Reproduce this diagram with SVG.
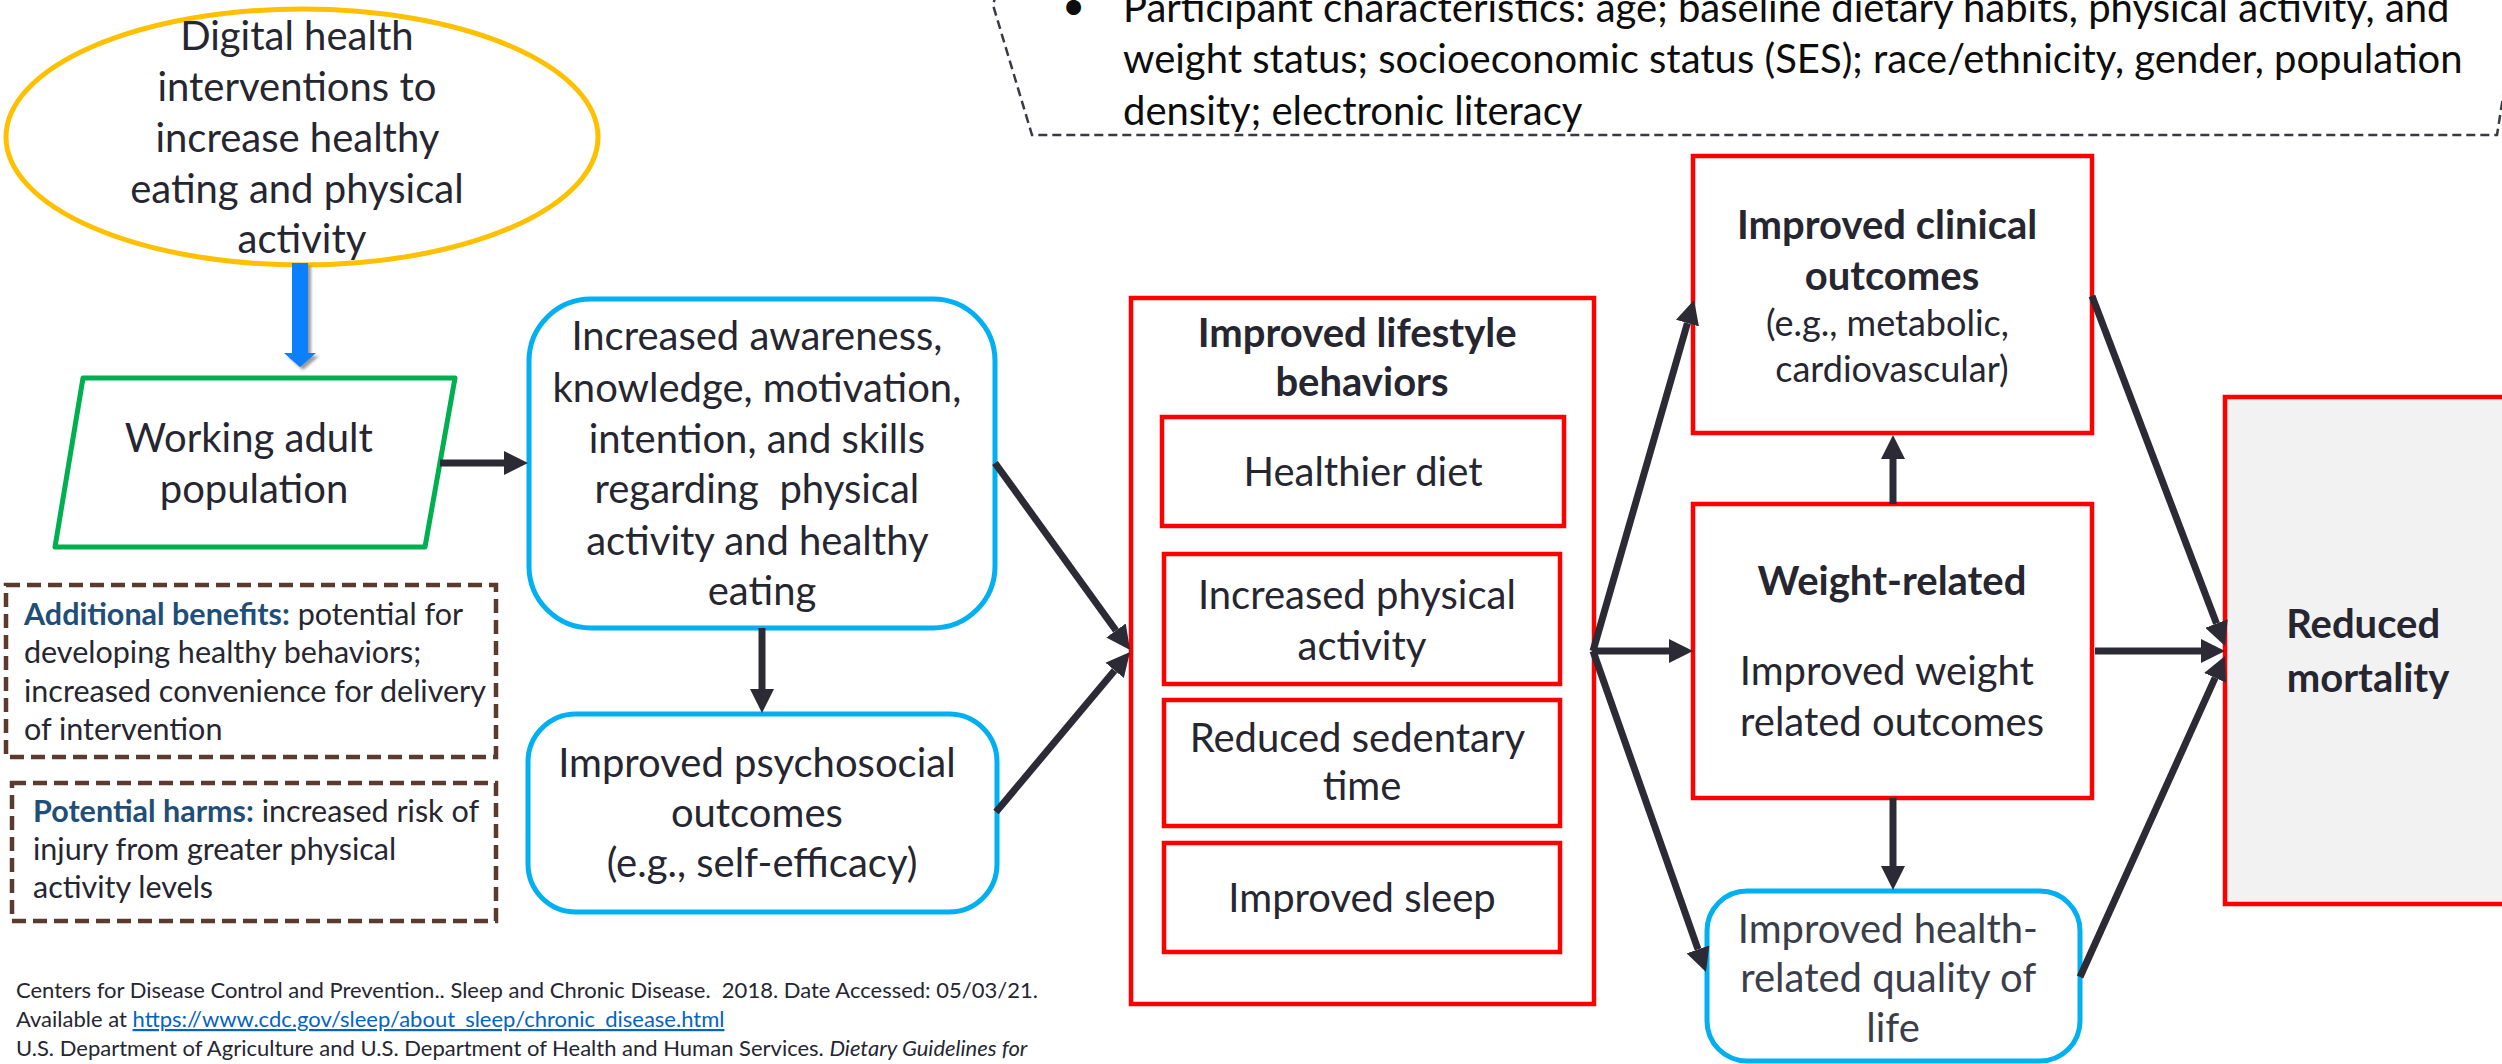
<svg xmlns="http://www.w3.org/2000/svg" width="2502" height="1064" viewBox="0 0 2502 1064">
  <defs>
    <style>
      text { font-family: Lato, "Open Sans", "DejaVu Sans", sans-serif; fill: #262631; }
      .c { text-anchor: middle; }
      .n { font-size: 40px; }
      .s { font-size: 36px; }
      .b { font-weight: 700; }
      .red { fill: #ffffff; stroke: #FF0000; stroke-width: 4.5; }
      .blue { fill: #ffffff; stroke: #00B0F0; stroke-width: 5; }
      .note { fill: #ffffff; stroke: #5B3A30; stroke-width: 4.5; stroke-dasharray: 14 7; }
      .note-text { font-size: 30.5px; }
      .lbl { fill: #1F4E79; font-weight: 700; }
      .foot { font-size: 22px; }
      #connectors line { stroke: #2B2A35; stroke-width: 7; marker-end: url(#ah); }
    </style>
    <marker id="ah" markerUnits="userSpaceOnUse" viewBox="0 0 24 24" markerWidth="24" markerHeight="24" refX="0" refY="12" orient="auto">
      <path d="M0,0 L24,12 L0,24 Z" fill="#2B2A35"/>
    </marker>
    <filter id="shadow" x="-50%" y="-20%" width="200%" height="140%">
      <feGaussianBlur stdDeviation="1.5"/>
    </filter>
  </defs>

  <rect width="2502" height="1064" fill="#ffffff"/>

  <!-- participant characteristics callout (top edge runs off the canvas) -->
  <g id="participants">
    <path d="M1000,-20 L993,5 L1032,135 L2497,135 L2512,40" fill="none" stroke="#3A3A46" stroke-width="2.5" stroke-dasharray="9 5"/>
    <text x="1062" y="20" class="n" style="fill:#0D0D0D">•</text>
    <text class="n" style="fill:#0D0D0D">
      <tspan x="1123" y="22">Participant characteristics: age; baseline dietary habits, physical activity, and</tspan>
      <tspan x="1123" y="73">weight status; socioeconomic status (SES); race/ethnicity, gender, population</tspan>
      <tspan x="1123" y="125">density; electronic literacy</tspan>
    </text>
  </g>

  <!-- intervention -->
  <g id="intervention">
    <ellipse cx="302" cy="137" rx="296" ry="128" fill="#ffffff" stroke="#FFC000" stroke-width="5"/>
    <text class="n c">
      <tspan x="302" y="50">Digital health</tspan>
      <tspan x="302" y="101">interventions to</tspan>
      <tspan x="302" y="152">increase healthy</tspan>
      <tspan x="302" y="203">eating and physical</tspan>
      <tspan x="302" y="253">activity</tspan>
    </text>
  </g>

  <!-- block arrow from intervention to population -->
  <g id="intervention-arrow">
    <polygon points="295,266 311,266 311,356 319,356 303,370 287,356 295,356" fill="#6E6E6E" opacity="0.7" filter="url(#shadow)"/>
    <polygon points="292,263 308,263 308,353 316,353 300,367 284,353 292,353" fill="#0A80FF"/>
  </g>

  <!-- population -->
  <g id="population">
    <polygon points="83,378 455,378 425,547 55,547" fill="#ffffff" stroke="#00B050" stroke-width="5" stroke-linejoin="round"/>
    <text class="n c">
      <tspan x="254" y="452">Working adult</tspan>
      <tspan x="254" y="503">population</tspan>
    </text>
  </g>

  <!-- notes -->
  <g id="benefits">
    <rect x="6" y="585" width="490" height="172" class="note"/>
    <text class="note-text">
      <tspan x="24" y="625"><tspan class="lbl">Additional benefits:</tspan> potential for</tspan>
      <tspan x="24" y="663">developing healthy behaviors;</tspan>
      <tspan x="24" y="702">increased convenience for delivery</tspan>
      <tspan x="24" y="740">of intervention</tspan>
    </text>
  </g>
  <g id="harms">
    <rect x="12" y="783" width="484" height="138" class="note"/>
    <text class="note-text">
      <tspan x="33" y="822"><tspan class="lbl">Potential harms:</tspan> increased risk of</tspan>
      <tspan x="33" y="860">injury from greater physical</tspan>
      <tspan x="33" y="898">activity levels</tspan>
    </text>
  </g>

  <!-- mediators -->
  <g id="awareness">
    <rect x="529" y="299" width="466" height="329" rx="62" class="blue"/>
    <text class="n c">
      <tspan x="762" y="350">Increased awareness,</tspan>
      <tspan x="762" y="402">knowledge, motivation,</tspan>
      <tspan x="762" y="453">intention, and skills</tspan>
      <tspan x="762" y="503">regarding&#160; physical</tspan>
      <tspan x="762" y="555">activity and healthy</tspan>
      <tspan x="762" y="605">eating</tspan>
    </text>
  </g>
  <g id="psychosocial">
    <rect x="528" y="714" width="469" height="198" rx="48" class="blue"/>
    <text class="n c">
      <tspan x="762" y="777">Improved psychosocial</tspan>
      <tspan x="762" y="827">outcomes</tspan>
      <tspan x="762" y="877">(e.g., self-efficacy)</tspan>
    </text>
  </g>

  <!-- lifestyle behaviours -->
  <g id="lifestyle">
    <rect x="1131" y="298" width="463" height="706" class="red"/>
    <text class="n c b">
      <tspan x="1362" y="347">Improved lifestyle</tspan>
      <tspan x="1362" y="396">behaviors</tspan>
    </text>
  </g>
  <g id="diet">
    <rect x="1162" y="417" width="402" height="109" class="red"/>
    <text x="1363" y="486" class="n c">Healthier diet</text>
  </g>
  <g id="activity">
    <rect x="1164" y="554" width="396" height="130" class="red"/>
    <text class="n c">
      <tspan x="1362" y="609">Increased physical</tspan>
      <tspan x="1362" y="660">activity</tspan>
    </text>
  </g>
  <g id="sedentary">
    <rect x="1164" y="700" width="396" height="126" class="red"/>
    <text class="n c">
      <tspan x="1362" y="752">Reduced sedentary</tspan>
      <tspan x="1362" y="800">time</tspan>
    </text>
  </g>
  <g id="sleep">
    <rect x="1164" y="843" width="396" height="109" class="red"/>
    <text x="1362" y="912" class="n c">Improved sleep</text>
  </g>

  <!-- outcomes -->
  <g id="clinical">
    <rect x="1693" y="156" width="399" height="277" class="red"/>
    <text class="n c b">
      <tspan x="1892" y="239">Improved clinical</tspan>
      <tspan x="1892" y="290">outcomes</tspan>
    </text>
    <text class="s c">
      <tspan x="1892" y="336">(e.g., metabolic,</tspan>
      <tspan x="1892" y="382">cardiovascular)</tspan>
    </text>
  </g>
  <g id="weight">
    <rect x="1693" y="504" width="399" height="294" class="red"/>
    <text x="1892" y="595" class="n c b">Weight-related</text>
    <text class="n c">
      <tspan x="1892" y="685">Improved weight</tspan>
      <tspan x="1892" y="736">related outcomes</tspan>
    </text>
  </g>
  <g id="quality">
    <rect x="1707" y="891" width="373" height="170" rx="40" class="blue"/>
    <text class="n c" style="fill:#3A3E4A">
      <tspan x="1893" y="943">Improved health-</tspan>
      <tspan x="1893" y="992">related quality of</tspan>
      <tspan x="1893" y="1042">life</tspan>
    </text>
  </g>
  <g id="mortality">
    <rect x="2225" y="397" width="300" height="507" fill="#F2F2F2" stroke="#FF0000" stroke-width="4.5"/>
    <text class="n c b">
      <tspan x="2368" y="638">Reduced</tspan>
      <tspan x="2368" y="692">mortality</tspan>
    </text>
  </g>

  <!-- references -->
  <g id="references">
    <text class="foot">
      <tspan x="16" y="998" xml:space="preserve">Centers for Disease Control and Prevention.. Sleep and Chronic Disease.  2018. Date Accessed: 05/03/21.</tspan>
      <tspan x="16" y="1027">Available at <tspan style="fill:#0563C1;text-decoration:underline">https://www.cdc.gov/sleep/about_sleep/chronic_disease.html</tspan></tspan>
      <tspan x="16" y="1056">U.S. Department of Agriculture and U.S. Department of Health and Human Services. <tspan font-style="italic">Dietary Guidelines for</tspan></tspan>
    </text>
  </g>

  <!-- connectors: lines stop at the arrowhead base, the marker carries the tip -->
  <g id="connectors">
    <line x1="440" y1="463" x2="504" y2="463"/>
    <line x1="762" y1="628" x2="762" y2="689"/>
    <line x1="995" y1="463" x2="1116" y2="630.5"/>
    <line x1="996" y1="812" x2="1114.6" y2="670.4"/>
    <line x1="1593" y1="651" x2="1687.4" y2="323.1"/>
    <line x1="1593" y1="651" x2="1669" y2="651"/>
    <line x1="1593" y1="651" x2="1698" y2="949.4"/>
    <line x1="1893" y1="504" x2="1893" y2="459"/>
    <line x1="1893" y1="798" x2="1893" y2="866"/>
    <line x1="2092" y1="296" x2="2216.5" y2="623.6"/>
    <line x1="2095" y1="651" x2="2201" y2="651"/>
    <line x1="2080" y1="977" x2="2215.1" y2="677.9"/>
  </g>
</svg>
